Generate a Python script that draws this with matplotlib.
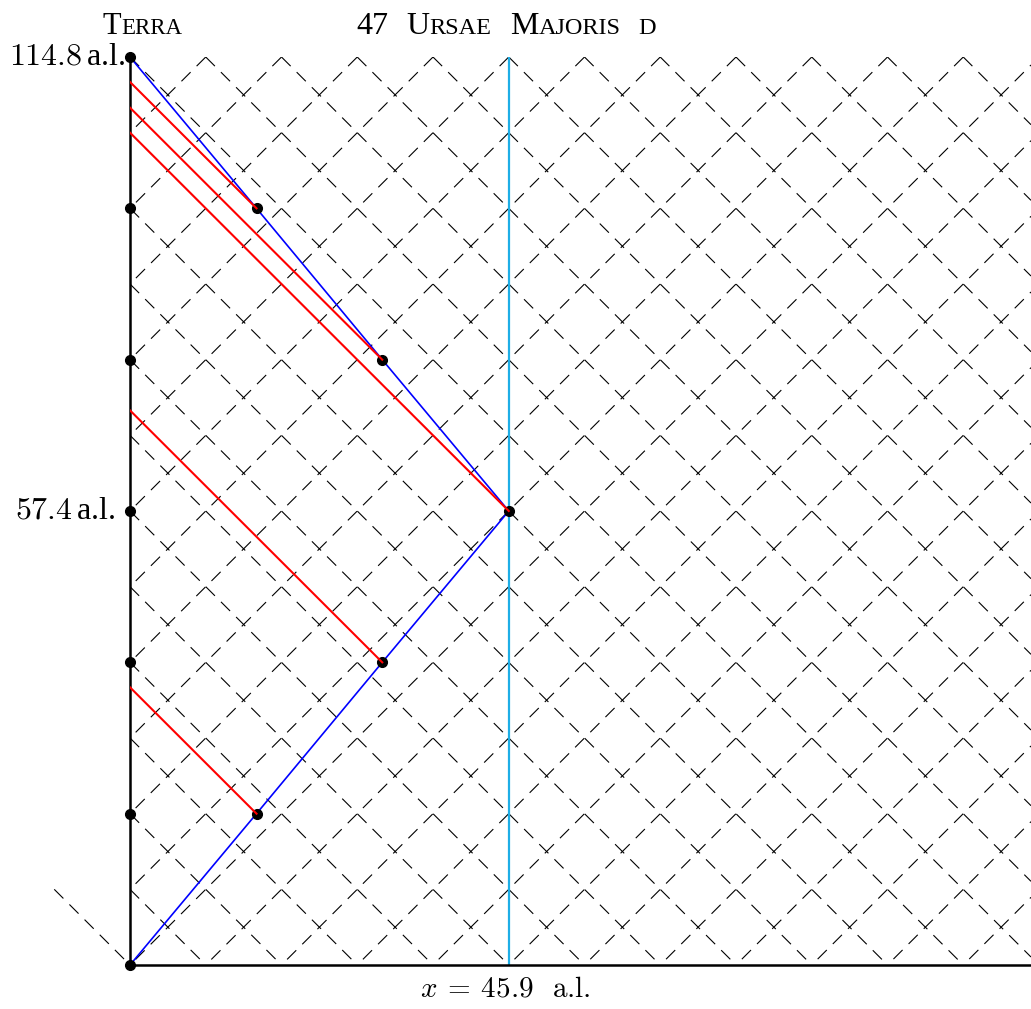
import matplotlib.pyplot as plt
import numpy as np

plt.rcParams['mathtext.fontset'] = 'cm'
plt.rcParams['lines.scale_dashes'] = False
serif = 'Liberation Serif'

# diagram units: one grid step; planet sits 5 steps out, trip ends 12 steps up
planet_x = 5.0
t_end = 12.0
t_mid = 6.0
planet_label = '45.9'
t_end_label = '114.8'
t_mid_label = '57.4'

# ship path (out and back) with the points where signals are sent
ship_t = [0, 2, 4, 6, 8, 10, 12]
ship_x = [0, 1.67, 3.33, 5.0, 3.33, 1.67, 0]

# Earth clock ticks
earth_t = [0, 2, 4, 6, 8, 10, 12]

# light signals: (emit x, emit t) -> arrival time on Earth
sig_x = [1.67, 3.33, 5.0, 3.33, 1.67]
sig_t = [2, 4, 6, 8, 10]
sig_arrive = [3.67, 7.33, 11.0, 11.33, 11.67]

W, H = 1031, 1009
fig = plt.figure(figsize=(W / 100, H / 100), dpi=100)
unit = 75.75
ax = fig.add_axes([130 / W, (H - 965) / H, (W - 130) / W, 908 / H])
xmax = (W - 130) / unit
ax.set_xlim(0, xmax)
ax.set_ylim(0, t_end)
ax.axis('off')

# light-cone grid (dashed 45 degree lines), dash phase tied to the top edge
diag_pts = np.sqrt(2) * unit * 0.72
period = diag_pts / 5
on, off = 9.3, period - 9.3


def grid_line(x0, y0, x1, y1, clip=True):
    offset = ((t_end - y0) * diag_pts) % period
    ax.plot([x0, x1], [y0, y1], color='black', lw=0.8,
            ls=(offset, (on, off)), zorder=1, clip_on=clip)


for k in range(0, int(xmax + t_end) + 1):
    x0, y0 = (k - t_end, t_end) if k >= t_end else (0, k)
    x1, y1 = (k, 0) if k <= xmax else (xmax, k - xmax)
    if k == 0:
        grid_line(-1, 1, 0, 0, clip=False)
    else:
        grid_line(x0, y0, x1, y1)
for m in range(-int(t_end), int(xmax) + 1):
    x0, y0 = (m + t_end, t_end) if m + t_end <= xmax else (xmax, xmax - m)
    x1, y1 = (m, 0) if m >= 0 else (0, -m)
    grid_line(x0, y0, x1, y1)

# planet world line
ax.plot([planet_x, planet_x], [0, t_end], color='#1eaee6', lw=1.6, zorder=2)

# ship world line
ax.plot(ship_x, ship_t, color='#0000ff', lw=1.2, zorder=3)

# Earth world line and x axis
ax.plot([0, 0], [0, t_end], color='black', lw=1.8, zorder=3, clip_on=False)
ax.plot([0, xmax], [0, 0], color='black', lw=1.8, zorder=3, clip_on=False)

# dots
ax.plot([0] * len(earth_t), earth_t, 'o', color='black', ms=7, zorder=4, clip_on=False)
ax.plot(ship_x[1:-1], ship_t[1:-1], 'o', color='black', ms=7, zorder=4)

# signals back to Earth
for x, t, ta in zip(sig_x, sig_t, sig_arrive):
    ax.plot([x, 0], [t, ta], color='#ff0000', lw=1.5, zorder=5)

# labels
ax.text(-0.06, t_end, r'$%s\,$a.l.' % t_end_label, ha='right', va='center',
        fontsize=23, family=serif, clip_on=False)
ax.text(-0.19, t_mid, r'$%s\,$a.l.' % t_mid_label, ha='right', va='center',
        fontsize=23, family=serif, clip_on=False)
ax.text(planet_x - 0.04, -0.32, r'$x\:=\:%s$  a.l.' % planet_label,
        ha='center', va='center', fontsize=21, family='cmr10', clip_on=False)

# small caps titles
r = fig.canvas.get_renderer()
inv = ax.transData.inverted()


def smallcaps(x, y, parts):
    for s, size, gap in parts:
        x += gap
        t = ax.text(x, y, s, fontsize=size, family=serif, ha='left',
                    va='baseline', clip_on=False)
        bb = t.get_window_extent(r)
        x = inv.transform((bb.x1, bb.y0))[0]


smallcaps(-0.36, 12.31, [('T', 22, 0), ('ERRA', 16.5, 0)])
big, small, sp = 23, 17.5, 0.24
smallcaps(2.99, 12.31, [('47', big, 0), ('U', big, sp), ('RSAE', small, 0),
                        ('M', big, sp), ('AJORIS', small, 0), ('D', small, sp)])

plt.savefig('out.png', dpi=100)
